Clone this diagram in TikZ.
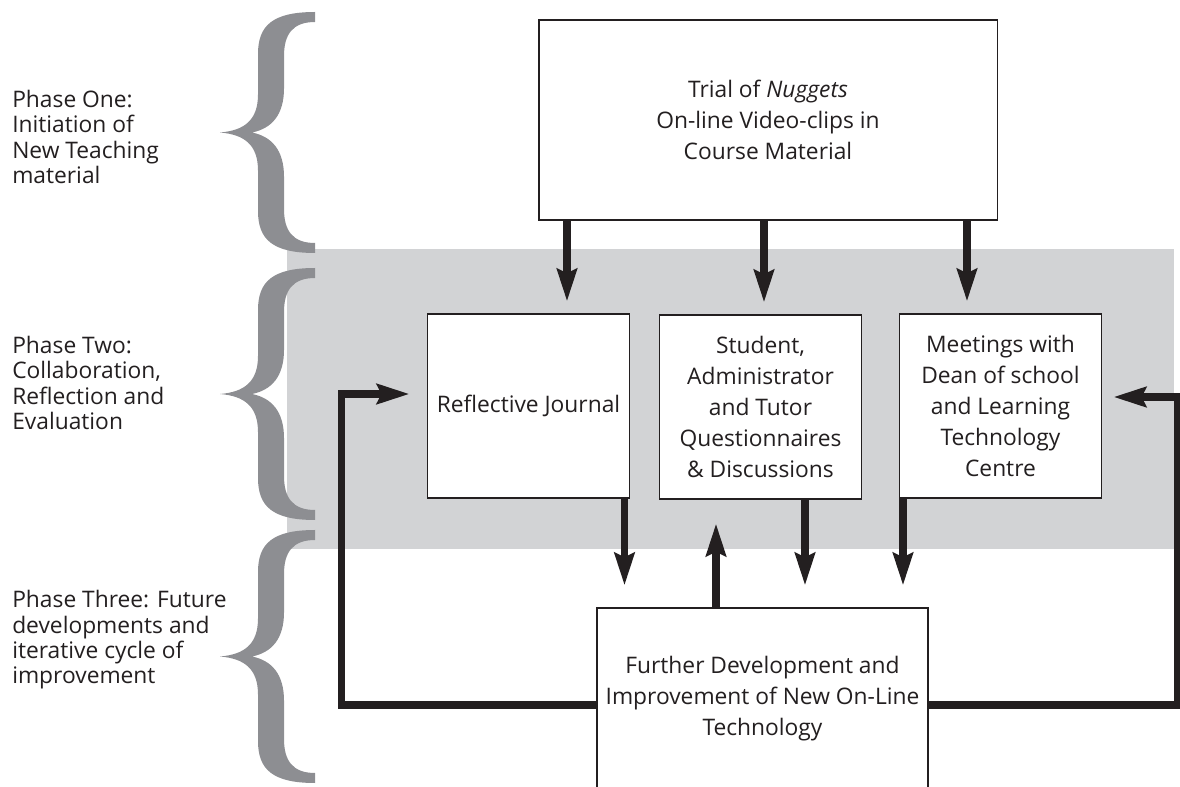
\documentclass[tikz,border=0pt]{standalone}
\usepackage{fontspec}
\setmainfont{Open Sans}
\usetikzlibrary{arrows.meta,calc,positioning}
\definecolor{inkblack}{RGB}{35,31,32}
\definecolor{bracegray}{RGB}{141,142,146}
\definecolor{bandgray}{RGB}{210,211,213}
\tikzset{
  stagebox/.style={draw=inkblack,fill=white,line width=0.8pt,align=center,
                   font=\fontsize{16.2}{22}\selectfont,text=inkblack,inner sep=0pt},
  phaselabel/.style={anchor=west,align=left,inner sep=0pt,
                     font=\fontsize{16.2}{18}\selectfont,text=inkblack},
  flow/.style={-{Stealth[length=23pt,width=14pt,inset=3pt]},inkblack,line width=5.4pt},
}

\begin{document}
\begin{tikzpicture}[x=0.025cm,y=-0.025cm]
  \useasboundingbox (0,0) rectangle (1180,787);

  % phase two band
  \fill[bandgray] (287,249) rectangle (1174,549);

  % phase braces
  \foreach \ya/\yb in {12/253, 268/520, 530/783} {
    \pgfmathsetmacro\ym{(\ya+\yb)/2}
    \fill[bracegray] (315,\ya) .. controls (272,\ya) and (258,{\ya+14}) .. (258,{\ya+42})
      -- (258,{\ym-38}) .. controls (258,{\ym-12}) and (244,{\ym-2}) .. (220,\ym)
      .. controls (244,{\ym+2}) and (258,{\ym+12}) .. (258,{\ym+38})
      -- (258,{\yb-42}) .. controls (258,{\yb-14}) and (272,\yb) .. (315,\yb)
      -- (315,{\yb-10}) .. controls (293,{\yb-10}) and (284,{\yb-22}) .. (284,{\yb-44})
      -- (284,{\ym+44}) .. controls (284,{\ym+18}) and (272,{\ym+4}) .. (252,\ym)
      .. controls (272,{\ym-4}) and (284,{\ym-18}) .. (284,{\ym-44})
      -- (284,{\ya+44}) .. controls (284,{\ya+22}) and (293,{\ya+10}) .. (315,{\ya+10}) -- cycle;
  }

  \node[phaselabel] (phaseone) at (12,137) {Phase One:\\Initiation of\\New Teaching\\material};
  \node[phaselabel] (phasetwo) at (12,383) {Phase Two:\\Collaboration,\\Reflection and\\Evaluation};
  \node[phaselabel] (phasethree) at (12,640) {Phase Three: Future\\developments and\\iterative cycle of\\improvement};

  \node[stagebox, minimum width=11.45cm, minimum height=5cm] (trial) at (768,120)
    {Trial of \textit{Nuggets}\\On-line Video-clips in\\Course Material};
  \node[stagebox, minimum width=5.07cm, minimum height=4.6cm] (journal) at (528.5,406)
    {Reflective Journal};
  \node[stagebox, minimum width=5.07cm, minimum height=4.6cm] (survey) at (760.5,407)
    {Student,\\Administrator\\and Tutor\\Questionnaires\\\& Discussions};
  \node[stagebox, minimum width=5.07cm, minimum height=4.6cm] (meetings) at (1000.5,406)
    {Meetings with\\Dean of school\\and Learning\\Technology\\Centre};
  \node[stagebox, minimum width=8.275cm, minimum height=4.55cm] (further) at (762.5,699)
    {Further Development and\\Improvement of New On-Line\\Technology};

  % trial to phase two
  \draw[flow,shorten >=0.3cm] ($(trial.south)+(-201,0)$) coordinate (t1) -- (t1 |- journal.north);
  \draw[flow,shorten >=0.3cm] ($(trial.south)+(-4,0)$) coordinate (t2) -- (t2 |- survey.north);
  \draw[flow,shorten >=0.3cm] ($(trial.south)+(199,0)$) coordinate (t3) -- (t3 |- meetings.north);

  % phase two to phase three
  \draw[flow,shorten >=0.55cm] ($(journal.south)+(96,0)$) coordinate (j1) -- (j1 |- further.north);
  \draw[flow,shorten >=0.55cm] ($(survey.south)+(44.5,0)$) coordinate (s1) -- (s1 |- further.north);
  \draw[flow,shorten >=0.55cm] ($(meetings.south)+(-97.5,0)$) coordinate (m1) -- (m1 |- further.north);
  \draw[flow,shorten >=0.6cm] ($(further.north)+(-46.5,0)$) coordinate (f1) -- (f1 |- survey.south);

  % feedback loops
  \draw[flow,shorten >=0.425cm] ($(further.west)+(0,6)$) -| ($(journal.west)+(-85,-12)$)
    -- ($(journal.west)+(0,-12)$);
  \draw[flow,shorten >=0.275cm] ($(further.east)+(0,6)$) -| ($(meetings.east)+(75,-9)$)
    -- ($(meetings.east)+(0,-9)$);
\end{tikzpicture}
\end{document}
